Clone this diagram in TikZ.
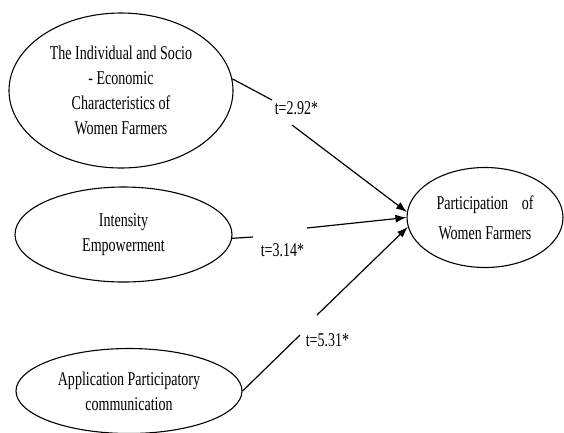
\documentclass[tikz,border=0pt]{standalone}
\usepackage{fontspec}
\setmainfont[FakeStretch=0.72]{Liberation Serif}
\usetikzlibrary{shapes.geometric,arrows.meta}
\begin{document}
\begin{tikzpicture}[x=1pt,y=-1pt,
  every node/.style={font=\fontsize{19.5}{25}\selectfont},
  oval/.style={ellipse,draw,line width=1.1pt,inner sep=0pt,align=center},
  conn/.style={line width=1.2pt},
  arr/.style={line width=1.2pt,-{Latex[length=11pt,width=8pt]}},
  lbl/.style={inner sep=0pt}]
\useasboundingbox (0,0) rectangle (564,432);
\node[oval,minimum width=224pt,minimum height=155pt] (e1) at (121,90.5)
  {The Individual and Socio\\- Economic\\Characteristics of\\Women Farmers};
\node[oval,minimum width=217pt,minimum height=95pt] (e2) at (123.5,234.5)
  {Intensity\\Empowerment};
\node[oval,minimum width=226pt,minimum height=85pt] (e3) at (129,391)
  {Application Participatory\\communication};
\node[oval,minimum width=156pt,minimum height=100pt,font=\fontsize{19.5}{30}\selectfont] (e4) at (485,217.5)
  {\makebox[97pt][s]{Participation of}\\Women Farmers};
\coordinate (g1a) at (272,100);
\coordinate (g1b) at (292,125);
\coordinate (g2a) at (253,237);
\coordinate (g2b) at (307,228);
\coordinate (g3a) at (300,335);
\coordinate (g3b) at (317,315);
\draw[conn] (e1.6) -- (g1a);
\draw[arr] (g1b) -- (e4.176);
\draw[conn] (e2.358) -- (g2a);
\draw[arr] (g2b) -- (e4.180);
\draw[conn] (e3.east) -- (g3a);
\draw[arr] (g3b) -- (e4.187);
\node[lbl] (l1) at (296.5,108) {t=2.92*};
\node[lbl] (l2) at (282.5,250) {t=3.14*};
\node[lbl] (l3) at (327.5,340) {t=5.31*};
\end{tikzpicture}
\end{document}
